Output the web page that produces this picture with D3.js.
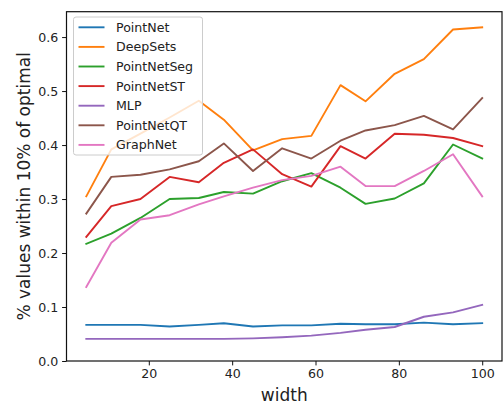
<!DOCTYPE html>
<html>
<head>
<meta charset="utf-8">
<script src="https://cdn.jsdelivr.net/npm/d3@7"></script>
<style>
	body { margin: 0; background: #fff; }
	text { font-family: "DejaVu Sans", sans-serif; }
</style>
</head>
<body>
<div id="chart"></div>
<script>

//----------------------------
// Data
//----------------------------

var widths = [5, 11, 18, 25, 32, 38, 45, 52, 59, 66, 72, 79, 86, 93, 100];

var seriesNames = ["PointNet", "DeepSets", "PointNetSeg", "PointNetST", "MLP", "PointNetQT", "GraphNet"];

var pointNet    = [0.067, 0.067, 0.067, 0.064, 0.067, 0.070, 0.064, 0.066, 0.066, 0.069, 0.068, 0.068, 0.071, 0.068, 0.070];
var deepSets    = [0.305, 0.392, 0.421, 0.451, 0.482, 0.447, 0.390, 0.411, 0.417, 0.511, 0.481, 0.532, 0.559, 0.614, 0.618];
var pointNetSeg = [0.217, 0.236, 0.265, 0.300, 0.302, 0.313, 0.310, 0.333, 0.348, 0.321, 0.291, 0.301, 0.329, 0.401, 0.375];
var pointNetST  = [0.230, 0.287, 0.300, 0.341, 0.331, 0.367, 0.392, 0.346, 0.323, 0.398, 0.375, 0.421, 0.419, 0.413, 0.398];
var mlp         = [0.041, 0.041, 0.041, 0.041, 0.041, 0.041, 0.042, 0.044, 0.047, 0.052, 0.058, 0.063, 0.082, 0.090, 0.104];
var pointNetQT  = [0.273, 0.341, 0.345, 0.355, 0.370, 0.403, 0.352, 0.394, 0.375, 0.408, 0.427, 0.437, 0.454, 0.429, 0.487];
var graphNet    = [0.137, 0.219, 0.262, 0.270, 0.290, 0.305, 0.321, 0.335, 0.343, 0.360, 0.324, 0.324, 0.352, 0.383, 0.305];

var xTicks = [20, 40, 60, 80, 100];
var yTicks = [0.0, 0.1, 0.2, 0.3, 0.4, 0.5, 0.6];

var colors = ["#1f77b4", "#ff7f0e", "#2ca02c", "#d62728", "#9467bd", "#8c564b", "#e377c2"];

//----------------------------
// Layout
//----------------------------

var totwidth = 503,
	totheight = 405,
	plotLeft = 66.5,
	plotRight = 502,
	plotTop = 11.7,
	plotBottom = 361,
	tickFont = 12.6,
	labelFont = 17;

var series = [pointNet, deepSets, pointNetSeg, pointNetST, mlp, pointNetQT, graphNet].map(function(vals, i) {
	return {
		name: seriesNames[i],
		color: colors[i],
		points: vals.map(function(v, j) { return {x: widths[j], y: v}; })
	};
});

var svg = d3.select("#chart").append("svg")
	.attr("width", totwidth)
	.attr("height", totheight);

svg.append("rect")
	.attr("width", totwidth)
	.attr("height", totheight)
	.attr("fill", "white");

// Scales (matplotlib-like 5% x margin, y from 0)

var x = d3.scaleLinear()
	.domain([0.25, 104.75])
	.range([plotLeft, plotRight]);

var y = d3.scaleLinear()
	.domain([0, 0.647])
	.range([plotBottom, plotTop]);

// Lines

var linefun = d3.line()
	.x(function(d) { return x(d.x); })
	.y(function(d) { return y(d.y); });

svg.append("g")
		.attr("class", "lines")
	.selectAll("path").data(series).enter().append("path")
		.attr("fill", "none")
		.attr("stroke", function(d) { return d.color; })
		.attr("stroke-width", 1.9)
		.attr("stroke-linejoin", "round")
		.attr("stroke-linecap", "square")
		.attr("d", function(d) { return linefun(d.points); });

// Frame

svg.append("rect")
	.attr("x", plotLeft)
	.attr("y", plotTop)
	.attr("width", plotRight - plotLeft)
	.attr("height", plotBottom - plotTop)
	.attr("fill", "none")
	.attr("stroke", "#111")
	.attr("stroke-width", 1.2);

// Axes

var xAxis = d3.axisBottom(x)
	.tickValues(xTicks)
	.tickSize(4.4)
	.tickPadding(3.8)
	.tickFormat(d3.format("d"));

var yAxis = d3.axisLeft(y)
	.tickValues(yTicks)
	.tickSize(4.4)
	.tickPadding(3.8)
	.tickFormat(d3.format(".1f"));

var gx = svg.append("g")
	.attr("transform", "translate(0," + plotBottom + ")")
	.call(xAxis);

var gy = svg.append("g")
	.attr("transform", "translate(" + plotLeft + ",0)")
	.call(yAxis);

[gx, gy].forEach(function(g) {
	g.select(".domain").remove();
	g.selectAll("line").attr("stroke", "#111").attr("stroke-width", 1);
	g.selectAll("text")
		.attr("fill", "#222")
		.style("font-family", "'DejaVu Sans', sans-serif")
		.style("font-size", tickFont + "px");
});

// Axis labels

svg.append("text")
	.attr("x", (plotLeft + plotRight) / 2)
	.attr("y", 401)
	.attr("text-anchor", "middle")
	.attr("fill", "#222")
	.style("font-size", labelFont + "px")
	.text("width");

svg.append("text")
	.attr("transform", "translate(30," + ((plotTop + plotBottom) / 2) + ") rotate(-90)")
	.attr("text-anchor", "middle")
	.attr("fill", "#222")
	.style("font-size", labelFont + "px")
	.text("% values within 10% of optimal");

// Legend

var legend = svg.append("g")
	.attr("class", "legend")
	.attr("transform", "translate(73.5,17)");

legend.append("rect")
	.attr("width", 129)
	.attr("height", 138)
	.attr("rx", 2.5)
	.attr("fill", "white")
	.attr("fill-opacity", 0.8)
	.attr("stroke", "#ccc")
	.attr("stroke-width", 1);

var rows = legend.selectAll("g.row").data(series).enter().append("g")
	.attr("class", "row")
	.attr("transform", function(d, i) { return "translate(0," + (10.3 + i * 19.6) + ")"; });

rows.append("line")
	.attr("x1", 5)
	.attr("x2", 31)
	.attr("stroke", function(d) { return d.color; })
	.attr("stroke-width", 1.9);

rows.append("text")
	.attr("x", 42.5)
	.attr("dy", "0.36em")
	.attr("fill", "#222")
	.style("font-size", tickFont + "px")
	.text(function(d) { return d.name; });

</script>
</body>
</html>
